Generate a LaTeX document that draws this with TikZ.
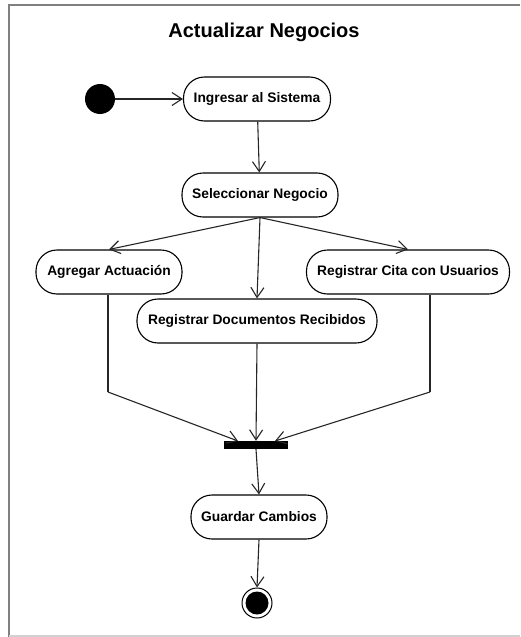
\documentclass[tikz,border=0pt]{standalone}
\usepackage{fontspec}
\setmainfont{Liberation Sans}
\usetikzlibrary{arrows.meta}
\begin{document}
\begin{tikzpicture}[x=1pt,y=-1pt,
  activity/.style={draw=black,line width=1.1pt,fill=white,rounded corners=21pt,
    minimum height=44pt,inner sep=0pt,
    font=\fontsize{13.8}{16}\selectfont\bfseries},
  flow/.style={draw=black!85,line width=1.1pt,
    -{Straight Barb[length=10pt,width=13pt,line width=1.1pt]}},
  link/.style={draw=black!85,line width=1.1pt},
  frameline/.style={draw=black!50,line width=2pt}]
\useasboundingbox (0,0) rectangle (520,637);
% frame
\draw[frameline] (9,637) -- (9,5) -- (520,5);
\draw[draw=black!18,line width=1.5pt] (9,636) -- (520,636);

% title
\node[font=\fontsize{20}{24}\selectfont\bfseries] (title) at (264,32) {Actualizar Negocios};

% start and end states
\node[circle,fill=black,minimum size=30pt,inner sep=0pt] (start) at (100,99) {};
\node[circle,draw=black,line width=1pt,fill=white,minimum size=30pt,inner sep=0pt] (final) at (257,603) {};
\node[circle,fill=black,minimum size=23pt,inner sep=0pt] (finaldot) at (257,603) {};

% activities
\node[activity,minimum width=147pt] (ing) at (257,99) {Ingresar al Sistema};
\node[activity,minimum width=156pt] (sel) at (260,195) {Seleccionar Negocio};
\node[activity,minimum width=146pt] (agr) at (109,272) {Agregar Actuación};
\node[activity,minimum width=203pt] (cita) at (408,272) {Registrar Cita con Usuarios};
\node[activity,minimum width=240pt] (doc) at (257,321) {Registrar Documentos Recibidos};
\node[activity,minimum width=136pt] (guar) at (259,517) {Guardar Cambios};

% join bar
\node[fill=black,minimum width=64pt,minimum height=8pt,inner sep=0pt] (bar) at (256,445) {};
\coordinate (jl) at (238,441);
\coordinate (jr) at (275,441);
\coordinate (bl) at (108,392);
\coordinate (br) at (430,392);

% transitions
\draw[flow] (start) -- (ing);
\draw[flow] (ing) -- (sel);
\draw[flow] (sel.south) -- (agr.north);
\draw[flow] (sel.south) -- (doc.north);
\draw[flow] (sel.south) -- (cita.north);
\draw[link] (agr.south -| bl) -- (bl);
\draw[flow] (bl) -- (jl);
\draw[link] (cita.south -| br) -- (br);
\draw[flow] (br) -- (jr);
\draw[flow] (doc.south) -- (bar.north);
\draw[flow] (bar.south) -- (guar.north);
\draw[flow] (guar.south) -- (final.north);
\end{tikzpicture}
\end{document}
